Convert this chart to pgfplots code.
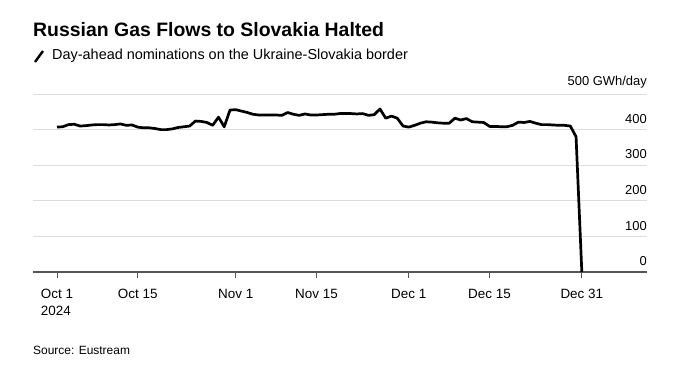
\documentclass[border=0pt]{standalone}
\usepackage{fontspec}
\setmainfont{Liberation Sans}
\usepackage{pgfplots}
\pgfplotsset{compat=1.18}
\definecolor{gridc}{HTML}{DDDDDD}
\definecolor{basec}{HTML}{555555}
\begin{document}
\begin{tikzpicture}
\path[use as bounding box] (0bp,0bp) rectangle (680bp,-370bp);
\node[anchor=west, inner sep=0pt, font=\fontsize{19.5}{22}\selectfont\bfseries] at (33bp,-30bp) {Russian Gas Flows to Slovakia Halted};
\draw[line width=2.4bp] (35bp,-62bp) -- (43bp,-51bp);
\node[anchor=west, inner sep=0pt, font=\fontsize{14.5}{17}\selectfont] at (52bp,-56bp) {Day-ahead nominations on the Ukraine-Slovakia border};
\node[anchor=west, inner sep=0pt, font=\fontsize{12}{14}\selectfont] at (33bp,-350bp) {Source: Eustream};
\begin{axis}[at={(33bp,-272bp)}, anchor=south west, scale only axis,
  width=614bp, height=178bp,
  xmin=-4.16, xmax=102.3, ymin=0, ymax=500,
  axis line style={draw=none},
  ytick={100,200,300,400,500}, yticklabels={}, ymajorgrids,
  grid style={gridc, line width=0.9bp},
  ytick style={draw=none},
  extra y ticks={0}, extra y tick labels={},
  extra y tick style={grid style={basec, line width=1.2bp}, ytick style={draw=none}},
  xtick={0,14,31,45,61,75,91},
  xticklabels={{Oct 1\\2024},{Oct 15},{Nov 1},{Nov 15},{Dec 1},{Dec 15},{Dec 31}},
  xtick pos=bottom, tick align=outside, major tick length=6bp,
  x tick style={basec, line width=0.8bp},
  xticklabel style={align=left, anchor=north, yshift=-8bp, font=\fontsize{13.5}{17}\selectfont},
  clip=false,
  /pgf/number format/assume math mode=true,
]
\addplot[black, line width=2.7bp, line join=round] table[x=d, y=v] {
d v
0 407
1 408
2 414
3 415
4 410
5 411
6 413
7 414
8 414
9 413
10 414
11 416
12 412
13 413
14 407
15 405
16 405
17 403
18 400
19 400
20 402
21 406
22 408
23 410
24 424
25 423
26 420
27 412
28 435
29 408
30 455
31 456
32 452
33 448
34 443
35 441
36 441
37 441
38 441
39 440
40 448
41 443
42 440
43 444
44 441
45 441
46 442
47 443
48 443
49 445
50 445
51 445
52 444
53 445
54 440
55 442
56 458
57 432
58 438
59 432
60 410
61 407
62 412
63 418
64 422
65 421
66 419
67 418
68 418
69 432
70 427
71 431
72 422
73 421
74 420
75 409
76 409
77 408
78 408
79 412
80 421
81 420
82 423
83 418
84 414
85 414
86 413
87 412
88 412
89 410
90 380
91 0
};
\node[anchor=south east, inner sep=0pt, yshift=6bp, font=\fontsize{13}{15}\selectfont] at (axis cs:102.3,0) {0};
\node[anchor=south east, inner sep=0pt, yshift=6bp, font=\fontsize{13}{15}\selectfont] at (axis cs:102.3,100) {100};
\node[anchor=south east, inner sep=0pt, yshift=6bp, font=\fontsize{13}{15}\selectfont] at (axis cs:102.3,200) {200};
\node[anchor=south east, inner sep=0pt, yshift=6bp, font=\fontsize{13}{15}\selectfont] at (axis cs:102.3,300) {300};
\node[anchor=south east, inner sep=0pt, yshift=6bp, font=\fontsize{13}{15}\selectfont] at (axis cs:102.3,400) {400};
\node[anchor=south east, inner sep=0pt, yshift=6bp, font=\fontsize{13}{15}\selectfont] at (axis cs:102.3,500) {500 GWh/day};
\end{axis}
\end{tikzpicture}
\end{document}
